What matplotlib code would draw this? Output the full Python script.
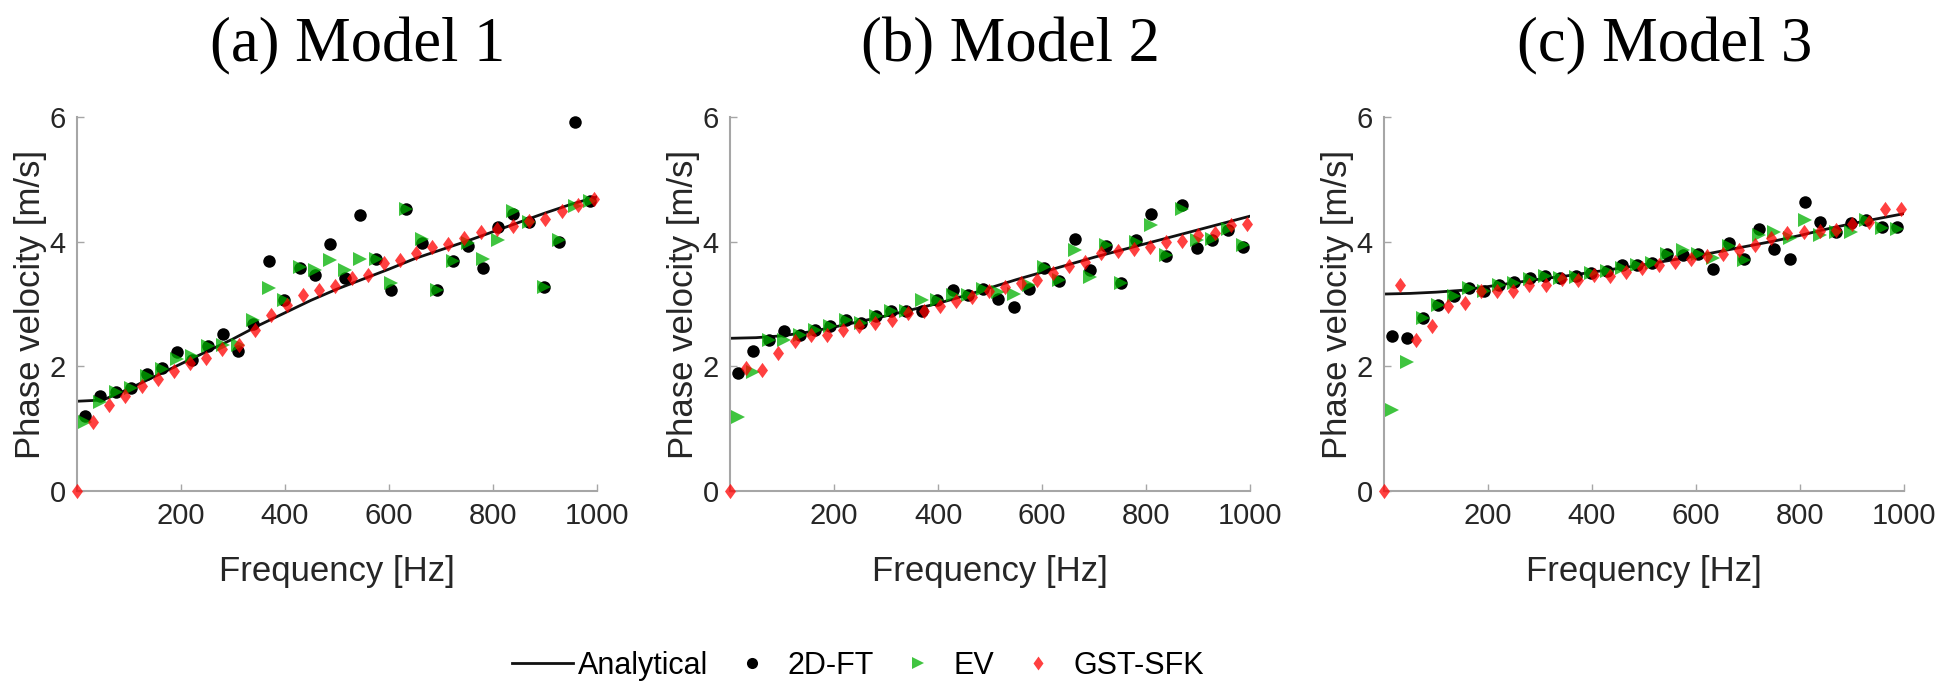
import matplotlib
matplotlib.use("Agg")
import matplotlib.pyplot as plt
from matplotlib.lines import Line2D
from matplotlib.path import Path

plt.rcParams['font.family'] = ['Liberation Sans', 'DejaVu Sans']

# frequency grids [Hz]
freqFT = [16, 45, 75, 104, 134, 163, 192, 222, 251, 281, 310, 339, 369, 398, 428, 457, 486,
          516, 545, 575, 604, 633, 663, 692, 722, 751, 780, 810, 839, 869, 898, 927, 957, 986]
freqSFK = [0, 31, 62, 93, 124, 155, 186, 217, 248, 279, 311, 342, 373, 404, 435, 466, 497,
           528, 559, 590, 621, 652, 683, 714, 745, 776, 807, 838, 869, 900, 932, 963, 994]
freqAna = [0, 50, 100, 150, 200, 250, 300, 350, 400, 450, 500,
           550, 600, 650, 700, 750, 800, 850, 900, 950, 1000]

# Model 1 phase velocities [m/s]
ana1 = [1.44, 1.46, 1.64, 1.84, 2.04, 2.24, 2.44, 2.66, 2.86, 3.06, 3.24,
        3.40, 3.56, 3.73, 3.87, 4.01, 4.16, 4.31, 4.46, 4.60, 4.72]
ft1 = [1.21, 1.52, 1.59, 1.66, 1.87, 1.97, 2.23, 2.10, 2.32, 2.52, 2.25, 2.68, 3.69, 3.07, 3.58, 3.47, 3.97,
       3.42, 4.43, 3.73, 3.22, 4.52, 3.98, 3.23, 3.69, 3.93, 3.58, 4.24, 4.44, 4.32, 3.27, 3.99, 5.92, 4.66]
ev1 = [1.10, 1.43, 1.59, 1.66, 1.84, 1.96, 2.11, 2.16, 2.32, 2.35, 2.34, 2.75, 3.25, 3.07, 3.59, 3.55, 3.70,
       3.54, 3.73, 3.73, 3.33, 4.52, 4.05, 3.23, 3.69, 3.98, 3.73, 4.02, 4.49, 4.32, 3.27, 4.03, 4.58, 4.66]
sfk1 = [0, 1.10, 1.38, 1.53, 1.68, 1.79, 1.92, 2.05, 2.14, 2.28, 2.35, 2.59, 2.83, 2.98, 3.14, 3.22, 3.29,
        3.42, 3.46, 3.66, 3.71, 3.82, 3.91, 3.96, 4.06, 4.16, 4.20, 4.25, 4.33, 4.36, 4.50, 4.59, 4.68]

# Model 2
ana2 = [2.45, 2.46, 2.49, 2.55, 2.63, 2.72, 2.81, 2.91, 3.01, 3.13, 3.26,
        3.39, 3.51, 3.63, 3.75, 3.86, 3.97, 4.08, 4.19, 4.30, 4.41]
ft2 = [1.90, 2.25, 2.43, 2.57, 2.51, 2.58, 2.65, 2.75, 2.70, 2.81, 2.88, 2.88, 2.89, 3.07, 3.22, 3.14, 3.24,
       3.08, 2.96, 3.24, 3.57, 3.37, 4.04, 3.55, 3.93, 3.33, 4.03, 4.45, 3.77, 4.59, 3.90, 4.03, 4.19, 3.92]
ev2 = [1.19, 1.91, 2.43, 2.42, 2.50, 2.58, 2.65, 2.75, 2.70, 2.81, 2.88, 2.88, 3.07, 3.07, 3.14, 3.14, 3.24,
       3.20, 3.16, 3.31, 3.60, 3.38, 3.86, 3.44, 3.94, 3.33, 4.00, 4.27, 3.79, 4.53, 4.02, 4.04, 4.20, 3.95]
sfk2 = [0, 1.97, 1.94, 2.22, 2.41, 2.50, 2.51, 2.58, 2.65, 2.70, 2.74, 2.86, 2.89, 2.97, 3.05, 3.12, 3.21,
        3.28, 3.33, 3.39, 3.50, 3.61, 3.67, 3.82, 3.85, 3.88, 3.91, 4.00, 4.01, 4.11, 4.14, 4.27, 4.28]

# Model 3
ana3 = [3.16, 3.17, 3.19, 3.22, 3.28, 3.34, 3.40, 3.45, 3.51, 3.57, 3.63,
        3.70, 3.77, 3.85, 3.93, 4.01, 4.10, 4.20, 4.29, 4.37, 4.45]
ft3 = [2.49, 2.45, 2.77, 2.98, 3.13, 3.25, 3.21, 3.30, 3.36, 3.42, 3.45, 3.42, 3.45, 3.49, 3.53, 3.62, 3.63,
       3.65, 3.80, 3.78, 3.81, 3.56, 3.98, 3.72, 4.21, 3.88, 3.72, 4.63, 4.32, 4.16, 4.30, 4.34, 4.24, 4.23]
ev3 = [1.30, 2.07, 2.77, 2.98, 3.13, 3.25, 3.21, 3.30, 3.34, 3.40, 3.45, 3.42, 3.44, 3.49, 3.53, 3.58, 3.62,
       3.65, 3.80, 3.87, 3.81, 3.74, 3.93, 3.71, 4.10, 4.16, 4.06, 4.35, 4.10, 4.16, 4.15, 4.35, 4.22, 4.21]
sfk3 = [0, 3.31, 2.43, 2.65, 2.97, 3.01, 3.21, 3.21, 3.21, 3.31, 3.31, 3.40, 3.39, 3.47, 3.45, 3.51, 3.58,
        3.63, 3.68, 3.72, 3.77, 3.81, 3.86, 3.95, 4.06, 4.14, 4.16, 4.17, 4.19, 4.29, 4.31, 4.52, 4.53]

titles = ["(a) Model 1", "(b) Model 2", "(c) Model 3"]
models = [(ana1, ft1, ev1, sfk1), (ana2, ft2, ev2, sfk2), (ana3, ft3, ev3, sfk3)]
lefts = [0.0395, 0.3744, 0.7097]

GREEN = '#00b000'
RED = '#ff0000'
AXGRAY = '#a6a6a6'
TXT = '#262626'

# MATLAB-like diamond, a bit wider than matplotlib's thin 'd'
diamond = Path([(0, 1), (0.72, 0), (0, -1), (-0.72, 0), (0, 1)],
               [Path.MOVETO, Path.LINETO, Path.LINETO, Path.LINETO, Path.CLOSEPOLY])

fig = plt.figure(figsize=(19.5, 6.9), dpi=100)

for left, title, (ana, ft, ev, sfk) in zip(lefts, titles, models):
    ax = fig.add_axes([left, 0.2884, 0.2667, 0.542])
    ax.plot(freqAna, ana, color='#111111', lw=2, zorder=2)
    ax.plot(freqFT, ft, 'o', color='k', ms=9, mew=0, zorder=3, clip_on=False)
    ax.plot(freqFT, ev, '>', color=GREEN, alpha=0.75, ms=9.5, mew=0, zorder=4, clip_on=False)
    ax.plot(freqSFK, sfk, marker=diamond, ls='', color=RED, alpha=0.75, ms=11, mew=0,
            zorder=5, clip_on=False)

    ax.set_xlim(0, 1000)
    ax.set_ylim(0, 6)
    ax.set_xticks([200, 400, 600, 800, 1000])
    ax.set_yticks([0, 2, 4, 6])
    for s in ['top', 'right']:
        ax.spines[s].set_visible(False)
    for s in ['left', 'bottom']:
        ax.spines[s].set_color(AXGRAY)
        ax.spines[s].set_linewidth(1.5)
    ax.tick_params(direction='in', length=5, width=1, color=AXGRAY, labelcolor=TXT,
                   labelsize=21, pad=8)
    ax.set_xlabel("Frequency [Hz]", fontsize=25, color=TXT, labelpad=18)
    ax.set_ylabel("Phase velocity [m/s]", fontsize=25, color=TXT, labelpad=2)
    ax.text(0.54, 1.19, title, transform=ax.transAxes, ha='center', va='center',
            fontsize=45, family='Liberation Serif', color='k')

# shared legend along the bottom
handles = [Line2D([], [], color='#111111', lw=2),
           Line2D([], [], ls='', marker='o', color='k', ms=8, mew=0),
           Line2D([], [], ls='', marker='>', color=GREEN, alpha=0.75, ms=8.5, mew=0),
           Line2D([], [], ls='', marker=diamond, color=RED, alpha=0.75, ms=10, mew=0)]
labels = ["Analytical", "2D-FT", "EV", "GST-SFK"]
fig.legend(handles, labels, loc='center', bbox_to_anchor=(0.44, 0.035), ncol=4,
           frameon=False, fontsize=22, handlelength=2, handletextpad=0.15,
           columnspacing=0.45)

fig.savefig("out.png", dpi=100)
